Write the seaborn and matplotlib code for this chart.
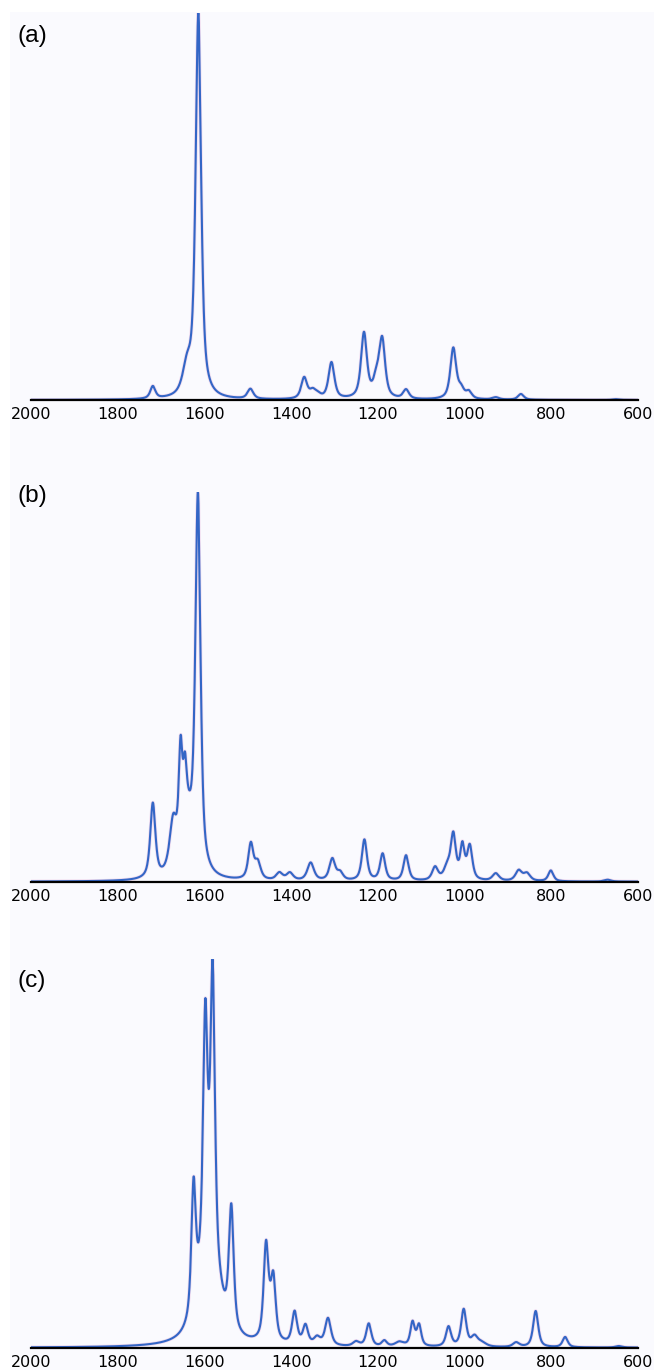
import numpy as np
import pandas as pd
import seaborn as sns
import matplotlib.pyplot as plt
from matplotlib.patches import Rectangle

# peak tables (position cm-1, relative height, half width)
a_pos = [1719, 1640, 1614, 1494, 1370, 1350, 1338, 1307, 1232, 1203, 1190, 1135, 1026, 1008, 990, 928, 870, 650]
a_amp = [0.032, 0.070, 1.0, 0.026, 0.055, 0.020, 0.008, 0.095, 0.170, 0.045, 0.148, 0.024, 0.133, 0.023, 0.018,
         0.006, 0.015, 0.002]
a_wid = [7, 12, 7.5, 8, 8, 9, 8, 8, 8, 9, 8, 8, 8, 8, 8, 9, 8, 9]

b_pos = [1719, 1672, 1655, 1645, 1638, 1615, 1493, 1477, 1427, 1403, 1355, 1305, 1287, 1231, 1189, 1135,
         1068, 1040, 1026, 1005, 988, 928, 875, 856, 801, 670]
b_amp = [0.200, 0.135, 0.260, 0.150, 0.130, 1.0, 0.095, 0.045, 0.020, 0.020, 0.048, 0.058, 0.020, 0.110,
         0.072, 0.068, 0.035, 0.032, 0.118, 0.088, 0.090, 0.020, 0.028, 0.020, 0.029, 0.005]
b_wid = [7, 10, 5, 5, 15, 7, 7, 8, 9, 9, 9, 8, 8, 7, 7, 7, 8, 9, 7, 6, 7, 9, 9, 9, 7, 9]

c_pos = [1625, 1598, 1590, 1581, 1538, 1458, 1450, 1441, 1392, 1367, 1340, 1315, 1250, 1221, 1185, 1150,
         1120, 1105, 1037, 1002, 977, 960, 881, 836, 768, 644]
c_amp = [0.330, 0.604, 0.260, 0.725, 0.320, 0.235, 0.035, 0.150, 0.085, 0.050, 0.020, 0.072, 0.012, 0.060,
         0.015, 0.012, 0.062, 0.055, 0.052, 0.097, 0.025, 0.010, 0.012, 0.095, 0.027, 0.004]
c_wid = [6, 6, 26, 6, 6.5, 6.5, 10, 6.5, 7, 7, 9, 8, 9, 7, 7, 12, 6, 6, 7, 7, 9, 12, 9, 7, 7, 9]

panel_labels = ['(a)', '(b)', '(c)']
x_ticks = [2000, 1800, 1600, 1400, 1200, 1000, 800, 600]

wavenumber = np.arange(600, 2000.25, 0.25)
ETA = 0.7  # lorentzian share of the line shape


def spectrum(pos, amp, wid):
    y = np.zeros_like(wavenumber)
    for p, h, w in zip(pos, amp, wid):
        u = (wavenumber - p) / w
        y += h * (ETA / (1 + u ** 2) + (1 - ETA) * np.exp(-np.log(2) * u ** 2))
    return y / y.max()


spectra = pd.DataFrame({
    'wavenumber': wavenumber,
    'a': spectrum(a_pos, a_amp, a_wid),
    'b': spectrum(b_pos, b_amp, b_wid),
    'c': spectrum(c_pos, c_amp, c_wid),
})

sns.set_style('white')
plt.rcParams['font.family'] = ['DejaVu Sans']

W, H = 654, 1370
fig = plt.figure(figsize=(W / 100, H / 100), dpi=100, facecolor='white')
fig.patches.append(Rectangle((10 / W, 0), 1, 1 - 12 / H, transform=fig.transFigure,
                             facecolor='#fafafe', edgecolor='none', zorder=-10))

# axes boxes in pixels: (top, bottom)
boxes = [(12.7, 400), (491.7, 881.7), (959, 1347.7)]
label_base = [42, 502, 987]
left, right = 31, 638

for key, (top, bottom), lab, lb in zip(['a', 'b', 'c'], boxes, panel_labels, label_base):
    ax = fig.add_axes([left / W, 1 - bottom / H, (right - left) / W, (bottom - top) / H])
    ax.set_facecolor('none')
    sns.lineplot(data=spectra, x='wavenumber', y=key, ax=ax, color='#e6bde0', linewidth=2.6,
                 alpha=0.5, estimator=None, sort=False)
    sns.lineplot(data=spectra, x='wavenumber', y=key, ax=ax, color='#3366c6', linewidth=1.5,
                 estimator=None, sort=False)
    ax.set_xlim(2000, 600)
    ax.set_ylim(0, 1)
    ax.set_xticks(x_ticks)
    ax.set_yticks([])
    ax.set_xlabel('')
    ax.set_ylabel('')
    sns.despine(ax=ax, left=True)
    ax.spines['bottom'].set_color('black')
    ax.spines['bottom'].set_linewidth(1.6)
    ax.tick_params(axis='x', direction='in', length=4, width=1, labelsize=11.5, pad=5, colors='black')
    fig.text(32 / W, 1 - lb / H, lab, ha='center', va='baseline', fontsize=17.6,
             family=['Liberation Sans', 'DejaVu Sans'], color='black')

fig.savefig('out.png', dpi=100, facecolor=fig.get_facecolor())
